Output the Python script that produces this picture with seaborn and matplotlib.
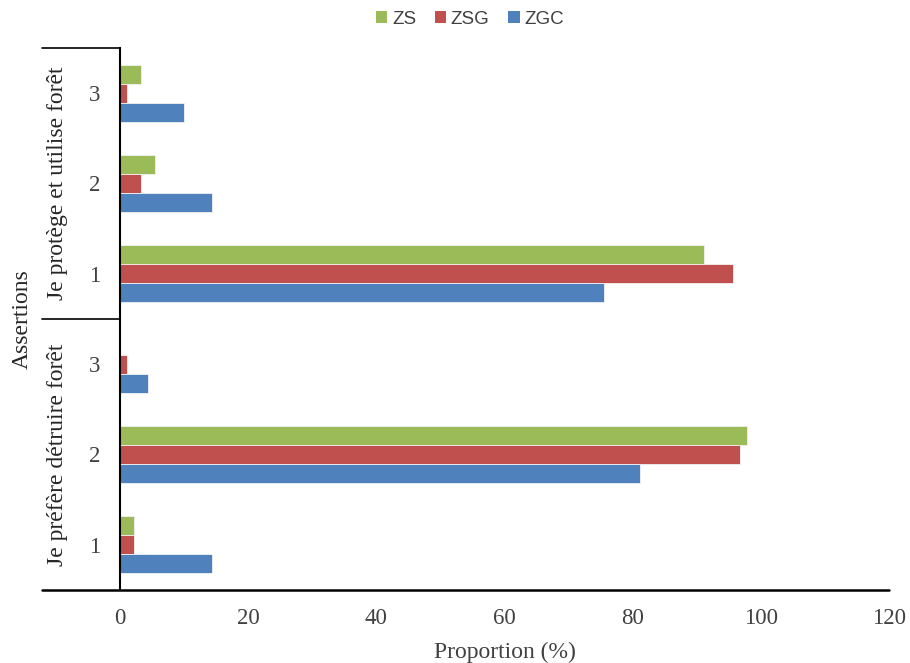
import matplotlib
matplotlib.use("Agg")
import matplotlib.pyplot as plt
from matplotlib.patches import Patch
import seaborn as sns
import pandas as pd

# Survey answers per assertion level, top to bottom
groups = ["Je protège et utilise forêt", "Je préfère détruire forêt"]
levels = ["3", "2", "1"]
zones = ["ZS", "ZSG", "ZGC"]
zs = [3.3, 5.5, 91.2, 0.0, 97.8, 2.2]
zsg = [1.1, 3.3, 95.6, 1.1, 96.7, 2.2]
zgc = [10.0, 14.4, 75.6, 4.4, 81.2, 14.4]
x_ticks = [0, 20, 40, 60, 80, 100, 120]

colors = {"ZS": "#9BBB59", "ZSG": "#C0504D", "ZGC": "#4F81BD"}

keys = [f"{g}|{l}" for g in groups for l in levels]
rows = []
for series, name in zip([zs, zsg, zgc], zones):
    for k, v in zip(keys, series):
        rows.append({"Assertion": k, "Zone": name, "Proportion": v})
df = pd.DataFrame(rows)

sns.set_style("white")
serif = ["Liberation Serif", "DejaVu Serif"]
sans = ["Liberation Sans", "DejaVu Sans"]

fig = plt.figure(figsize=(9.10, 6.63), dpi=100)
ax = fig.add_axes([120 / 910, 1 - 590 / 663, 769 / 910, 542 / 663])

sns.barplot(data=df, y="Assertion", x="Proportion", hue="Zone",
            order=keys, hue_order=zones, palette=colors, orient="h",
            saturation=1, width=0.63, gap=0, linewidth=0.6,
            edgecolor="#f2f2f2", legend=False, ax=ax)

ax.set_xlim(0, 120)
ax.set_ylim(5.5, -0.5)
ax.set_xticks(x_ticks)
ax.set_xticklabels([str(t) for t in x_ticks], family=serif, fontsize=16.5,
                   color="#404040")
ax.set_yticks(range(len(keys)))
ax.set_yticklabels(levels * len(groups), family=serif, fontsize=16.5,
                   color="#404040")
ax.tick_params(axis="x", length=0, pad=13)
ax.tick_params(axis="y", length=0, pad=14)
ax.set_xlabel("Proportion (%)", family=serif, fontsize=17, color="#404040",
              labelpad=9)
ax.set_ylabel("")

for s in ["top", "right", "bottom"]:
    ax.spines[s].set_visible(False)
ax.spines["left"].set_color("black")
ax.spines["left"].set_linewidth(1.5)

# extended category axis lines
left_ext = -78 / 769
ax.plot([left_ext, 1], [0, 0], transform=ax.transAxes, color="black",
        lw=1.8, clip_on=False)
for yy in [1.0, 0.5]:
    ax.plot([left_ext, 0], [yy, yy], transform=ax.transAxes, color="black",
            lw=1.2, clip_on=False)

# group labels
for i, g in enumerate(groups):
    yc = 1 - (0.25 + 0.5 * i)
    ax.text(-63 / 769, yc, g, transform=ax.transAxes, rotation=90,
            ha="center", va="center", family=serif, fontsize=17,
            color="#262626")
ax.text(-98 / 769, 0.5, "Assertions", transform=ax.transAxes, rotation=90,
        ha="center", va="center", family=serif, fontsize=17, color="#262626")

handles = [Patch(facecolor=colors[z], edgecolor="none", label=z) for z in zones]
leg = fig.legend(handles=handles, loc="center", ncol=3, frameon=False,
                 bbox_to_anchor=(470 / 910, 1 - 19 / 663),
                 handlelength=0.6, handleheight=0.6, handletextpad=0.25,
                 columnspacing=1.0, prop={"family": sans, "size": 13.5})
for t in leg.get_texts():
    t.set_color("#404040")

fig.savefig("out.png", dpi=100)
